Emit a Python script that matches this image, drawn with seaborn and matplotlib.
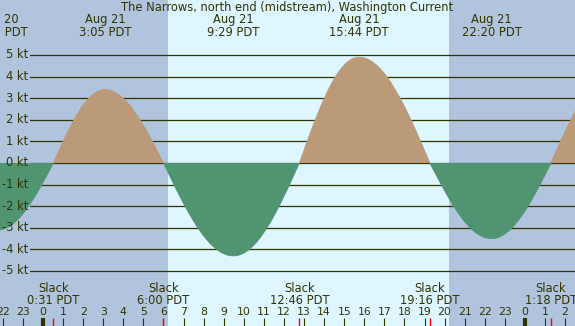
"""Tidal current chart for The Narrows, north end (midstream)."""

import matplotlib

matplotlib.use("Agg")
import matplotlib.pyplot as plt
import numpy as np
import pandas as pd
import seaborn as sns

TITLE = "The Narrows, north end (midstream), Washington Current"

# Current events: date, local time, speed (kt), 0 = slack.
EVENT_DATES = ["Aug 20", "Aug 21", "Aug 21", "Aug 21", "Aug 21", "Aug 21",
               "Aug 21", "Aug 21", "Aug 21", "Aug 22", "Aug 22"]
EVENT_TIMES = ["21:45", "0:31", "3:05", "6:00", "9:29", "12:46",
               "15:44", "19:16", "22:20", "1:18", "4:20"]
EVENT_KT = [-3.1, 0.0, 3.4, 0.0, -4.3, 0.0, 4.9, 0.0, -3.5, 0.0, 4.1]
DAY_OFFSET = {"Aug 20": -1, "Aug 21": 0, "Aug 22": 1}

SUNRISE = "6:13"
SUNSET = "20:13"

KT_TICKS = [5, 4, 3, 2, 1, 0, -1, -2, -3, -4, -5]
HOUR_TICKS = list(range(-2, 27))

NIGHT = "#b0c4de"
DAY = "#ddf6ff"
FLOOD = "#bb9a7a"
EBB = "#519472"
INK = "#333300"

# pixel geometry of the 575x326 picture
W, H = 575, 326
X0, HOUR_PX = 43, 20.08
Y0, KT_PX = 163, 21.6


def to_hours(date: str, hhmm: str) -> float:
    h, m = hhmm.split(":")
    return DAY_OFFSET[date] * 24 + int(h) + int(m) / 60


def ky(py: float) -> float:
    return (Y0 - py) / KT_PX


def build_curve(hours, kts, n=120) -> pd.DataFrame:
    ts, vs = [], []
    for (t0, v0), (t1, v1) in zip(zip(hours, kts), zip(hours[1:], kts[1:])):
        s = np.linspace(0, 1, n)
        if v0 == 0:
            v = v1 * np.sin(np.pi / 2 * s)
        else:
            v = v0 * np.cos(np.pi / 2 * s)
        ts.append(t0 + (t1 - t0) * s)
        vs.append(v)
    t = np.concatenate(ts)
    v = np.concatenate(vs)
    direction = np.where(v >= 0, "flood", "ebb")
    seg = np.concatenate([[0], np.cumsum(direction[1:] != direction[:-1])])
    return pd.DataFrame({"t": t, "kt": v, "dir": direction, "seg": seg})


hours = [to_hours(d, t) for d, t in zip(EVENT_DATES, EVENT_TIMES)]
curve = build_curve(hours, EVENT_KT)

sns.set_theme(style="white")
plt.rcParams["font.family"] = ["DejaVu Sans"]

fig = plt.figure(figsize=(W / 100, H / 100), dpi=100)
ax = fig.add_axes([0, 0, 1, 1])
ax.set_facecolor(NIGHT)
fig.patch.set_facecolor(NIGHT)

ax.axvspan(to_hours("Aug 21", SUNRISE), to_hours("Aug 21", SUNSET),
           color=DAY, lw=0, zorder=0)

for k in KT_TICKS:
    ax.axhline(k, xmin=30 / W, xmax=1, color=INK, lw=0.9, zorder=1)

ax.fill_between(curve["t"], curve["kt"], 0, where=curve["kt"] >= 0,
                color=FLOOD, lw=0, interpolate=True, zorder=3)
ax.fill_between(curve["t"], curve["kt"], 0, where=curve["kt"] <= 0,
                color=EBB, lw=0, interpolate=True, zorder=3)
sns.lineplot(data=curve, x="t", y="kt", hue="dir", units="seg",
             estimator=None, palette={"flood": FLOOD, "ebb": EBB},
             lw=0.6, legend=False, ax=ax, zorder=3)

xmin, xmax = -X0 / HOUR_PX, (W - X0) / HOUR_PX
ax.set_xlim(xmin, xmax)
ax.set_ylim(ky(H), ky(0))
ax.axis("off")

fs = 8.3
for k in KT_TICKS:
    ax.text(28 / W, ky(Y0 - k * KT_PX), f"{k} kt", transform=ax.get_yaxis_transform(),
            ha="right", va="center", fontsize=fs, color=INK)

ax.text(0.5, ky(7.5), TITLE, transform=ax.get_yaxis_transform(),
        ha="center", va="center", fontsize=fs, color=INK)

for h in HOUR_TICKS:
    ax.text(h, ky(312), str(h % 24), ha="center", va="center", fontsize=7.8, color=INK)
    ax.vlines(h, ky(326), ky(318), color=INK, lw=3.0 if h % 24 == 0 else 0.8, zorder=4)

for d, tm, t, v in zip(EVENT_DATES, EVENT_TIMES, hours, EVENT_KT):
    if v == 0:
        ax.text(t, ky(288), "Slack", ha="center", va="center", fontsize=fs, color=INK)
        ax.text(t, ky(300), f"{tm} PDT", ha="center", va="center", fontsize=fs, color=INK)
        ax.vlines(t, ky(326), ky(318), color="red", lw=1.0, zorder=5)
    else:
        ax.text(t, ky(20), d, ha="center", va="center", fontsize=fs, color=INK)
        ax.text(t, ky(32), f"{tm} PDT", ha="center", va="center", fontsize=fs, color=INK)

fig.savefig("out.png", dpi=100, facecolor=NIGHT)
plt.close(fig)
